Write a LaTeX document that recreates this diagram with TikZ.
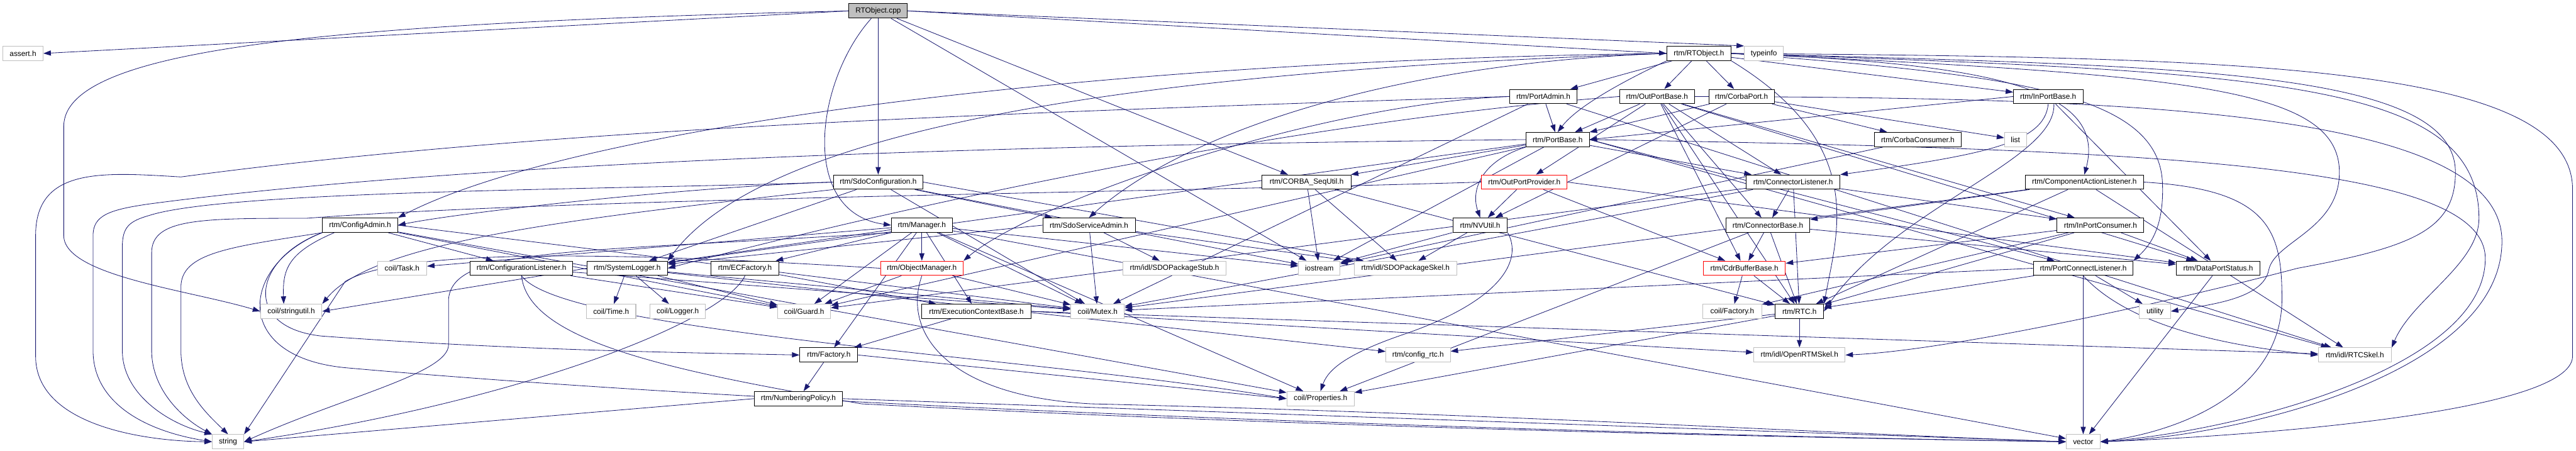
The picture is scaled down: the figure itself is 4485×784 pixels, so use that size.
\documentclass[tikz,border=0pt]{standalone}
\usepackage{fontspec}
\setmainfont{Liberation Sans}
\usetikzlibrary{arrows.meta,backgrounds}
\definecolor{edgeblue}{HTML}{191970}
\definecolor{extgray}{HTML}{BFBFBF}
\tikzset{
  hdr/.style={draw=black, line width=1.1pt, fill=white, minimum height=25pt, inner sep=0pt, font=\fontsize{13}{15}\selectfont},
  hdrred/.style={hdr, draw=red},
  hdrext/.style={hdr, draw=extgray},
  hdrmain/.style={hdr, fill=extgray},
  inc/.style={draw=edgeblue, line width=0.9pt, -{Triangle[length=13pt,width=9pt]}},
}
\begin{document}
\begin{tikzpicture}[x=1pt,y=-1pt]
  \useasboundingbox (0,0) rectangle (4485,784);
  % rank 0 and 1
  \node[hdrmain, minimum width=102pt] (cpp) at (1529,19) {RTObject.cpp};
  \node[hdrext, minimum width=70pt] (assert) at (40,93) {assert.h};
  \node[hdr, minimum width=112pt] (rtoh) at (2958,93) {rtm/RTObject.h};
  \node[hdrext, minimum width=68pt] (tinfo) at (3071,93) {typeinfo};
  % rank 2
  \node[hdr, minimum width=117pt] (padm) at (2687,168) {rtm/PortAdmin.h};
  \node[hdr, minimum width=130pt] (opb) at (2885,168) {rtm/OutPortBase.h};
  \node[hdr, minimum width=114pt] (cport) at (3032,168) {rtm/CorbaPort.h};
  \node[hdr, minimum width=121pt] (ipb) at (3566,168) {rtm/InPortBase.h};
  % rank 3
  \node[hdr, minimum width=110pt] (pbase) at (2712,243) {rtm/PortBase.h};
  \node[hdr, minimum width=151pt] (ccons) at (3339,243) {rtm/CorbaConsumer.h};
  \node[hdrext, minimum width=38pt] (list) at (3509,243) {list};
  % rank 4
  \node[hdr, minimum width=156pt] (sdoc) at (1529,317) {rtm/SdoConfiguration.h};
  \node[hdr, minimum width=155pt] (cseq) at (2275,317) {rtm/CORBA\_SeqUtil.h};
  \node[hdrred, minimum width=149pt] (opp) at (2654,317) {rtm/OutPortProvider.h};
  \node[hdr, minimum width=163pt] (clis) at (3122,317) {rtm/ConnectorListener.h};
  \node[hdr, minimum width=206pt] (cal) at (3629,317) {rtm/ComponentActionListener.h};
  % rank 5
  \node[hdr, minimum width=131pt] (cadm) at (627,392) {rtm/ConfigAdmin.h};
  \node[hdr, minimum width=106pt] (mgr) at (1605,392) {rtm/Manager.h};
  \node[hdr, minimum width=161pt] (ssa) at (1896,392) {rtm/SdoServiceAdmin.h};
  \node[hdr, minimum width=95pt] (nvu) at (2577,392) {rtm/NVUtil.h};
  \node[hdr, minimum width=146pt] (cbase) at (3078,392) {rtm/ConnectorBase.h};
  \node[hdr, minimum width=151pt] (ipc) at (3657,392) {rtm/InPortConsumer.h};
  % rank 6
  \node[hdrext, minimum width=86pt] (task) at (700,467) {coil/Task.h};
  \node[hdr, minimum width=178pt] (cfgl) at (908,467) {rtm/ConfigurationListener.h};
  \node[hdr, minimum width=140pt] (slog) at (1092,467) {rtm/SystemLogger.h};
  \node[hdr, minimum width=119pt] (ecf) at (1297,467) {rtm/ECFactory.h};
  \node[hdrred, minimum width=144pt] (omgr) at (1605,467) {rtm/ObjectManager.h};
  \node[hdrext, minimum width=180pt] (stub) at (2045,467) {rtm/idl/SDOPackageStub.h};
  \node[hdrext, minimum width=72pt] (iostr) at (2297,467) {iostream};
  \node[hdrext, minimum width=178pt] (skel) at (2447,467) {rtm/idl/SDOPackageSkel.h};
  \node[hdrred, minimum width=143pt] (cdr) at (3037,467) {rtm/CdrBufferBase.h};
  \node[hdr, minimum width=174pt] (pcl) at (3627,467) {rtm/PortConnectListener.h};
  \node[hdr, minimum width=146pt] (dps) at (3862,467) {rtm/DataPortStatus.h};
  % rank 7
  \node[hdrext, minimum width=107pt] (stru) at (507,542) {coil/stringutil.h};
  \node[hdrext, minimum width=86pt] (time) at (1064,542) {coil/Time.h};
  \node[hdrext, minimum width=96pt] (logger) at (1180,542) {coil/Logger.h};
  \node[hdrext, minimum width=92pt] (guard) at (1400,542) {coil/Guard.h};
  \node[hdr, minimum width=190pt] (ecb) at (1700,542) {rtm/ExecutionContextBase.h};
  \node[hdrext, minimum width=93pt] (mutex) at (1911,542) {coil/Mutex.h};
  \node[hdrext, minimum width=102pt] (cfac) at (3016,542) {coil/Factory.h};
  \node[hdr, minimum width=84pt] (rtc) at (3133,542) {rtm/RTC.h};
  \node[hdrext, minimum width=54pt] (util) at (3752,542) {utility};
  % rank 8
  \node[hdr, minimum width=101pt] (fac) at (1443,618) {rtm/Factory.h};
  \node[hdrext, minimum width=112pt] (cfgrtc) at (2469,618) {rtm/config\_rtc.h};
  \node[hdrext, minimum width=159pt] (ortm) at (3133,618) {rtm/idl/OpenRTMSkel.h};
  \node[hdrext, minimum width=127pt] (rtcskel) at (4100,618) {rtm/idl/RTCSkel.h};
  % rank 9 and 10
  \node[hdr, minimum width=154pt] (npol) at (1390,694) {rtm/NumberingPolicy.h};
  \node[hdrext, minimum width=117pt] (props) at (2299,694) {coil/Properties.h};
  \node[hdrext, minimum width=55pt] (str) at (397,769) {string};
  \node[hdrext, minimum width=59pt] (vec) at (3627,769) {vector};

  \begin{pgfonlayer}{background}
  % RTObject.cpp
  \draw[inc] (cpp.west) -- (assert.east);
  \draw[inc] (cpp.west) .. controls (600,40) and (111,80) .. (111,220) -- (111,410) .. controls (111,480) and (330,505) .. (stru.west);
  \draw[inc] (cpp.east) -- (rtoh.west);
  \draw[inc] (cpp.east) -- (tinfo.north west);
  \draw[inc] (cpp) -- (sdoc);
  \draw[inc] ([xshift=-12pt]cpp.south) .. controls (1420,140) and (1390,370) .. (mgr.west);
  \draw[inc] (cpp) -- (iostr);
  \draw[inc] (cpp) -- (cseq);
  % RTObject.h
  \draw[inc] (rtoh) -- (padm);
  \draw[inc] (rtoh) -- (opb);
  \draw[inc] (rtoh) -- (cport);
  \draw[inc] (rtoh.south west) .. controls (2850,130) and (2750,180) .. (pbase.north);
  \draw[inc] (rtoh) -- (ipb);
  \draw[inc] (rtoh.west) .. controls (1900,105) and (1000,220) .. (cadm.north east);
  \draw[inc] (rtoh.west) .. controls (2100,120) and (1350,200) .. (slog.north east);
  \draw[inc] (rtoh.west) .. controls (2400,110) and (2050,240) .. (ssa.north);
  \draw[inc] (rtoh.east) .. controls (3450,110) and (3670,150) .. (cal.north);
  \draw[inc] (rtoh.east) .. controls (3500,130) and (3760,160) .. (3765,320) .. controls (3768,400) and (3740,430) .. (pcl.north east);
  \draw[inc] (rtoh.east) .. controls (3800,130) and (4073,150) .. (4073,300) .. controls (4073,400) and (3960,420) .. (3950,470) .. controls (3940,520) and (3850,530) .. (util.east);
  \draw[inc] (rtoh.east) .. controls (3800,115) and (4275,120) .. (4275,300) .. controls (4275,400) and (4200,430) .. (4000,467) .. controls (3800,520) and (3400,610) .. (ortm.east);
  \draw[inc] (rtoh.east) .. controls (3950,125) and (4316,140) .. (4316,380) .. controls (4316,460) and (4200,520) .. (rtcskel.north east);
  \draw[inc] (rtoh.east) .. controls (3900,100) and (4479,110) .. (4479,330) -- (4479,620) .. controls (4479,720) and (3900,760) .. (vec.east);
  \draw[inc] (rtoh.south east) .. controls (3250,250) and (3200,400) .. (rtc.north east);
  % PortAdmin.h
  \draw[inc] (padm) -- (pbase);
  \draw[inc] (padm.west) .. controls (1600,200) and (900,230) .. (315,308) .. controls (180,300) and (62,290) .. (62,410) -- (62,620) .. controls (62,740) and (250,768) .. (str.west);
  \draw[inc] (padm.west) .. controls (2300,180) and (1800,350) .. (omgr.north east);
  \draw[inc] (padm) -- (mutex);
  \draw[inc] (padm) -- (rtcskel);
  % OutPortBase.h
  \draw[inc] (opb) -- (pbase);
  \draw[inc] (opb) -- (opp);
  \draw[inc] (opb) -- (clis);
  \draw[inc] (opb) -- (cbase);
  \draw[inc] (opb) -- (cdr);
  \draw[inc] (opb) -- (ipc);
  \draw[inc] (opb) -- (dps);
  \draw[inc] (opb) -- (rtc);
  \draw[inc] (opb.west) .. controls (2400,200) and (1800,300) .. (slog.east);
  \draw[inc] (opb.east) .. controls (3700,170) and (4356,190) .. (4356,420) .. controls (4356,650) and (3900,760) .. (vec.east);
  % CorbaPort.h
  \draw[inc] (cport) -- (pbase);
  \draw[inc] (cport) -- (ccons);
  \draw[inc] (cport) -- (list);
  \draw[inc] (cport) -- (nvu);
  % InPortBase.h
  \draw[inc] (ipb.west) -- (pbase.east);
  \draw[inc] (ipb.south) .. controls (3560,250) and (3450,270) .. (clis.north east);
  \draw[inc] ([xshift=10pt]ipb.south) .. controls (3580,280) and (3300,360) .. (rtc.east);
  \draw[inc] (ipb) -- (dps);
  % PortBase.h
  \draw[inc] (pbase) -- (cseq);
  \draw[inc] (pbase.south west) .. controls (2580,280) and (2560,330) .. (nvu.north);
  \draw[inc] (pbase.west) .. controls (2000,250) and (900,270) .. (260,355) .. controls (190,365) and (162,375) .. (162,410) -- (162,610) .. controls (162,700) and (250,750) .. (str.west);
  \draw[inc] (pbase) -- (slog);
  \draw[inc] (pbase) -- (guard);
  \draw[inc] (pbase) -- (iostr);
  \draw[inc] (pbase.east) -- (pcl);
  \draw[inc] (pbase.east) -- (rtcskel);
  \draw[inc] (pbase) -- (clis);
  \draw[inc] (pbase.east) .. controls (3800,260) and (4327,290) .. (4327,450) .. controls (4327,640) and (3900,750) .. (vec.east);
  % CorbaConsumer.h
  \draw[inc] (ccons) -- (iostr);
  % SdoConfiguration.h
  \draw[inc] (sdoc.west) .. controls (1200,325) and (800,370) .. (cadm.east);
  \draw[inc] (sdoc.west) .. controls (1100,330) and (400,330) .. (260,375) .. controls (225,385) and (213,395) .. (213,430) -- (213,610) .. controls (213,690) and (300,740) .. (str.north west);
  \draw[inc] (sdoc) -- (ssa);
  \draw[inc] (sdoc) -- (slog);
  \draw[inc] (sdoc) -- (mutex);
  \draw[inc] (sdoc.south west) .. controls (1000,380) and (650,420) .. (stru.north east);
  \draw[inc] (sdoc.east) -- (skel);
  \draw[inc] (sdoc) -- (iostr);
  % CORBA_SeqUtil.h
  \draw[inc] (cseq) -- (skel);
  \draw[inc] (cseq) -- (iostr);
  \draw[inc] (cseq) -- (rtc);
  % OutPortProvider.h
  \draw[inc] (opp) -- (nvu);
  \draw[inc] (opp) -- (cdr);
  \draw[inc] (opp.west) .. controls (2000,335) and (1000,345) .. (533,380) .. controls (350,380) and (264,380) .. (264,440) -- (264,610) .. controls (264,680) and (320,730) .. (str.north west);
  \draw[inc] (opp.east) -- (dps);
  % ConnectorListener.h
  \draw[inc] (clis) -- (cbase);
  \draw[inc] (clis) -- (rtc);
  \draw[inc] (clis) -- (guard);
  \draw[inc] (clis) -- (mutex);
  \draw[inc] (clis) -- (ipc);
  % ComponentActionListener.h
  \draw[inc] (cal) -- (rtc);
  \draw[inc] (cal) -- (cbase);
  \draw[inc] (cal) -- (mutex);
  \draw[inc] (cal) -- (rtcskel);
  \draw[inc] (cal.east) .. controls (3950,330) and (3973,400) .. (3973,520) .. controls (3973,680) and (3800,750) .. (vec.east);
  % ConfigAdmin.h
  \draw[inc] ([xshift=-45pt]cadm.south) .. controls (500,440) and (492,470) .. ([xshift=-13pt]stru.north);
  \draw[inc] (cadm.south west) .. controls (400,430) and (315,440) .. (315,500) -- (315,610) .. controls (315,680) and (360,720) .. (str.north);
  \draw[inc] (cadm) -- (cfgl);
  \draw[inc] (cadm.south west) .. controls (440,450) and (420,570) .. (560,585) .. controls (900,610) and (1200,614) .. (fac.west);
  \draw[inc] (cadm.south west) .. controls (420,460) and (400,620) .. (600,640) .. controls (1500,720) and (3000,760) .. (vec.west);
  \draw[inc] (cadm.east) -- (mutex);
  \draw[inc] (cadm) -- (guard);
  \draw[inc] (cadm) -- (props);
  % Manager.h
  \draw[inc] (mgr) -- (omgr);
  \draw[inc] (mgr) -- (task);
  \draw[inc] (mgr) -- (ecf);
  \draw[inc] (mgr) -- (slog);
  \draw[inc] (mgr) -- (fac);
  \draw[inc] (mgr) -- (mutex);
  \draw[inc] (mgr) -- (guard);
  \draw[inc] (mgr) -- (ecb);
  \draw[inc] (mgr) -- (vec);
  \draw[inc] (mgr) -- (props);
  \draw[inc] (mgr) -- (iostr);
  \draw[inc] (mgr.south west) .. controls (1000,440) and (790,430) .. (781,520) -- (781,600) .. controls (781,650) and (600,690) .. (str.east);
  % SdoServiceAdmin.h
  \draw[inc] (ssa) -- (stub);
  \draw[inc] (ssa) -- (mutex);
  \draw[inc] (ssa.west) -- (slog);
  \draw[inc] (ssa) -- (skel);
  % NVUtil.h
  \draw[inc] (nvu) -- (skel);
  \draw[inc] (nvu) -- (iostr);
  \draw[inc] (nvu.south east) .. controls (2650,450) and (2620,520) .. (2450,580) .. controls (2330,620) and (2310,650) .. (props.north);
  % ConnectorBase.h
  \draw[inc] (cbase) -- (cdr);
  \draw[inc] (cbase) -- (rtc);
  \draw[inc] (cbase) -- (dps);
  \draw[inc] (cbase) -- (props);
  % InPortConsumer.h
  \draw[inc] (ipc) -- (dps);
  \draw[inc] (ipc) -- (cdr);
  \draw[inc] (ipc) -- (cfac);
  \draw[inc] (ipc) -- (rtc);
  % ConfigurationListener.h
  \draw[inc] (cfgl) -- (guard);
  \draw[inc] (cfgl) -- (mutex);
  \draw[inc] (cfgl.south) .. controls (980,580) and (1800,620) .. (props.west);
  \draw[inc] (cfgl.south) .. controls (920,600) and (1200,650) .. (1500,703) .. controls (2200,740) and (3000,760) .. (vec.west);
  % SystemLogger.h
  \draw[inc] (slog) -- (time);
  \draw[inc] (slog) -- (logger);
  \draw[inc] (slog) -- (guard);
  \draw[inc] (slog) -- (mutex);
  \draw[inc] (slog.west) -- (stru.east);
  \draw[inc] (slog) -- (cfgrtc);
  % ECFactory.h
  \draw[inc] (ecf.south) .. controls (1260,560) and (900,700) .. (str.east);
  \draw[inc] (ecf) -- (ecb);
  % ObjectManager.h
  \draw[inc] (omgr) -- (mutex);
  \draw[inc] (omgr) -- (guard);
  \draw[inc] (omgr.west) .. controls (1100,440) and (700,430) .. (601,490) -- (str.north east);
  \draw[inc] (omgr.south) .. controls (1570,580) and (1650,690) .. (1900,703) .. controls (2600,720) and (3200,755) .. (vec.west);
  % ExecutionContextBase.h
  \draw[inc] (ecb) -- (fac);
  \draw[inc] (ecb.east) -- (ortm);
  \draw[inc] (ecb.east) -- (rtcskel);
  % Factory.h and NumberingPolicy.h
  \draw[inc] (fac) -- (npol);
  \draw[inc] (fac.east) -- (props.west);
  \draw[inc] (npol.west) -- (str.east);
  \draw[inc] (npol.east) -- (vec.west);
  % CdrBufferBase.h and RTC.h
  \draw[inc] (cdr) -- (cfac);
  \draw[inc] (cdr) -- (rtc);
  \draw[inc] (rtc) -- (ortm);
  \draw[inc] (rtc) -- (cfgrtc);
  \draw[inc] (rtc) -- (props);
  % PortConnectListener.h and DataPortStatus.h
  \draw[inc] (pcl) -- (vec);
  \draw[inc] (pcl) -- (util);
  \draw[inc] (pcl.south) .. controls (3700,560) and (3850,600) .. (rtcskel.west);
  \draw[inc] (pcl) -- (rtc);
  \draw[inc] (pcl.west) -- (mutex);
  \draw[inc] (dps) -- (vec);
  \end{pgfonlayer}
\end{tikzpicture}
\end{document}
